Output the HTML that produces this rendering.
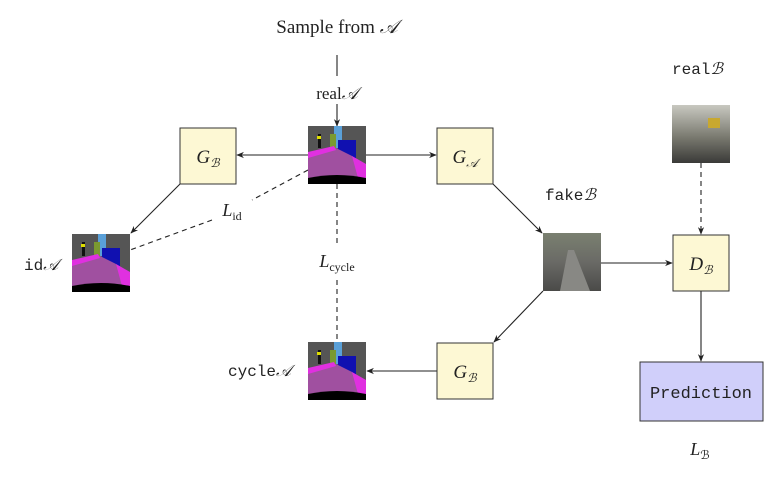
<!DOCTYPE html>
<html><head><meta charset="utf-8"><style>
body{margin:0;background:#fff;width:774px;height:473px;overflow:hidden}
text{font-family:"Liberation Serif",serif;fill:#222}
.m{font-family:"Liberation Mono",monospace}
</style></head><body>
<svg width="774" height="473" viewBox="0 0 774 473" xmlns="http://www.w3.org/2000/svg">
<defs>
<marker id="a" viewBox="0 0 10 10" refX="9" refY="5" markerWidth="7" markerHeight="7" orient="auto"><path d="M0,1 L10,5 L0,9 L3,5z" fill="#222"/></marker>
<g id="seg">
<rect width="58" height="58" fill="#555"/>
<rect x="26" y="0" width="8" height="22" fill="#5aa0d8"/>
<rect x="22" y="8" width="6" height="18" fill="#7a9a30"/>
<rect x="30" y="14" width="18" height="18" fill="#1010b0"/>
<path d="M0,28 L28,22 L44,30 L58,44 L58,50 L0,52z" fill="#a050a0"/>
<path d="M0,26 L26,20 L28,24 L0,32z" fill="#e030e0"/>
<path d="M44,30 L58,38 L58,52 L50,52z" fill="#e030e0"/>
<path d="M0,52 Q29,46 58,52 L58,58 L0,58z" fill="#000"/>
<rect x="10" y="8" width="3" height="14" fill="#111"/>
<rect x="9" y="10" width="4" height="3" fill="#dd0"/>
</g>
<linearGradient id="st" x1="0" y1="0" x2="0" y2="1"><stop offset="0" stop-color="#7a8070"/><stop offset=".5" stop-color="#6a6a66"/><stop offset="1" stop-color="#4a4a48"/></linearGradient>
<linearGradient id="st2" x1="0" y1="0" x2="0" y2="1"><stop offset="0" stop-color="#c8c8c0"/><stop offset=".55" stop-color="#7a7a70"/><stop offset="1" stop-color="#3a3a38"/></linearGradient>
</defs>
<g stroke="#222" stroke-width="1.1" fill="none">
<line x1="337" y1="55" x2="337" y2="76"/>
<line x1="337" y1="104" x2="337" y2="126" marker-end="url(#a)"/>
<line x1="308" y1="155" x2="237" y2="155" marker-end="url(#a)"/>
<line x1="366" y1="155" x2="436" y2="155" marker-end="url(#a)"/>
<line x1="180" y1="184" x2="131" y2="233" marker-end="url(#a)"/>
<line x1="493" y1="184" x2="542" y2="233" marker-end="url(#a)"/>
<line x1="601" y1="263" x2="672" y2="263" marker-end="url(#a)"/>
<line x1="701" y1="163" x2="701" y2="234" stroke-dasharray="5,4" marker-end="url(#a)"/>
<line x1="701" y1="291" x2="701" y2="361" marker-end="url(#a)"/>
<line x1="543" y1="291" x2="494" y2="342" marker-end="url(#a)"/>
<line x1="437" y1="371" x2="367" y2="371" marker-end="url(#a)"/>
<line x1="337" y1="184" x2="337" y2="247" stroke-dasharray="5,4"/>
<line x1="337" y1="280" x2="337" y2="342" stroke-dasharray="5,4"/>
<line x1="308" y1="170" x2="252" y2="200" stroke-dasharray="5,4"/>
<line x1="212" y1="220" x2="130" y2="250" stroke-dasharray="5,4"/>
</g>
<g fill="#fdf8d4" stroke="#333" stroke-width="1">
<rect x="180" y="128" width="56" height="56"/>
<rect x="437" y="128" width="56" height="56"/>
<rect x="437" y="343" width="56" height="56"/>
<rect x="673" y="235" width="56" height="56"/>
</g>
<rect x="640" y="362" width="123" height="59" fill="#d0cffa" stroke="#333"/>
<use href="#seg" x="308" y="126"/>
<use href="#seg" x="72" y="234"/>
<use href="#seg" x="308" y="342"/>
<rect x="543" y="233" width="58" height="58" fill="url(#st)"/>
<path d="M560,291 L568,250 L574,250 L590,291z" fill="#888884"/>
<rect x="672" y="105" width="58" height="58" fill="url(#st2)"/>
<rect x="708" y="118" width="12" height="10" fill="#c8a830"/>
<text x="337" y="33" font-size="19" text-anchor="middle">Sample from <tspan font-style="italic">𝒜</tspan></text>
<text x="337" y="99" font-size="17" text-anchor="middle">real<tspan font-style="italic">𝒜</tspan></text>
<text x="208" y="163" font-size="19" text-anchor="middle" font-style="italic">G<tspan font-size="12" dy="4">ℬ</tspan></text>
<text x="465" y="163" font-size="19" text-anchor="middle" font-style="italic">G<tspan font-size="12" dy="4">𝒜</tspan></text>
<text x="465" y="378" font-size="19" text-anchor="middle" font-style="italic">G<tspan font-size="12" dy="4">ℬ</tspan></text>
<text x="701" y="270" font-size="19" text-anchor="middle" font-style="italic">D<tspan font-size="12" dy="4">ℬ</tspan></text>
<text x="232" y="216" font-size="18" text-anchor="middle"><tspan font-style="italic">L</tspan><tspan font-size="12" dy="4">id</tspan></text>
<text x="337" y="267" font-size="18" text-anchor="middle"><tspan font-style="italic">L</tspan><tspan font-size="12" dy="4">cycle</tspan></text>
<text x="700" y="455" font-size="18" text-anchor="middle"><tspan font-style="italic">L</tspan><tspan font-size="12" dy="4">ℬ</tspan></text>
<text x="24" y="270" font-size="16" class="m">id<tspan font-family="Liberation Serif" font-style="italic">𝒜</tspan></text>
<text x="228" y="376" font-size="16" class="m">cycle<tspan font-family="Liberation Serif" font-style="italic">𝒜</tspan></text>
<text x="545" y="200" font-size="16" class="m">fake<tspan font-family="Liberation Serif" font-style="italic">ℬ</tspan></text>
<text x="672" y="74" font-size="16" class="m">real<tspan font-family="Liberation Serif" font-style="italic">ℬ</tspan></text>
<text x="701" y="398" font-size="17" class="m" text-anchor="middle">Prediction</text>
</svg>
</body></html>
